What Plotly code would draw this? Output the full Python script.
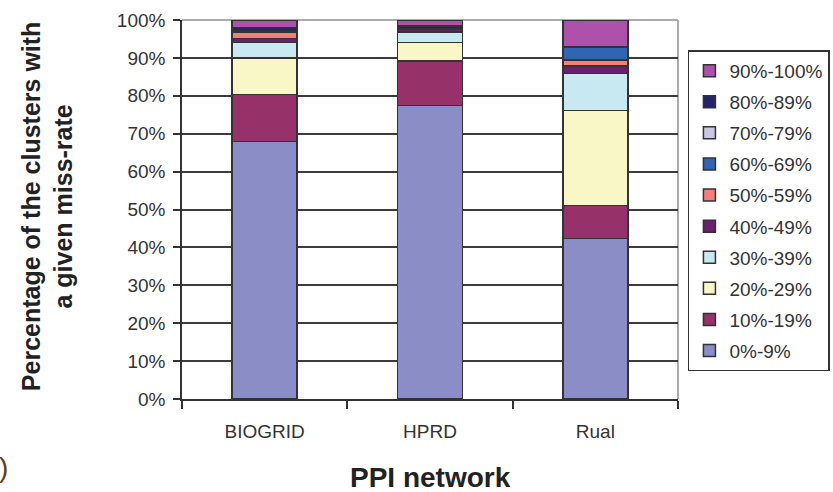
import plotly.graph_objects as go

# PPI networks on the x axis
networks = ["BIOGRID", "HPRD", "Rual"]

# Miss-rate bins, bottom of the stack first
bins = ["0%-9%", "10%-19%", "20%-29%", "30%-39%", "40%-49%",
        "50%-59%", "60%-69%", "70%-79%", "80%-89%", "90%-100%"]

# Share of clusters (%) in each miss-rate bin, per network
biogrid = [68.0, 12.3, 9.7, 4.1, 1.0, 1.8, 0.0, 0.3, 0.8, 2.0]
hprd = [77.5, 11.7, 4.8, 2.9, 0.7, 0.0, 0.0, 0.0, 0.8, 1.6]
rual = [42.4, 8.7, 25.0, 9.8, 2.0, 1.5, 3.3, 0.0, 0.3, 7.0]

# y tick positions and labels
y_ticks = list(range(0, 101, 10))
y_tick_labels = [f"{v}%" for v in y_ticks]

bin_colors = ["#8A8DC6", "#963269", "#FAF7C6", "#C8E8F2", "#6A1E6E",
              "#F57D7D", "#3264B4", "#C8C8E6", "#23236E", "#AF50AA"]

ink = "#333333"
font_family = "Liberation Sans, Arial, sans-serif"

fig = go.Figure()
for i, name in enumerate(bins):
    fig.add_trace(go.Bar(
        x=networks,
        y=[biogrid[i], hprd[i], rual[i]],
        name=name,
        legendgroup=name,
        legendrank=1000 - i,  # highest bin listed first
        marker=dict(color=bin_colors[i], line=dict(color=ink, width=1.5)),
    ))

fig.update_layout(
    width=833, height=492,
    margin=dict(l=182, r=155, t=20, b=93, autoexpand=False),
    paper_bgcolor="white", plot_bgcolor="white",
    barmode="stack", bargap=0.607,
    font=dict(family=font_family, color=ink, size=19),
    showlegend=True,
    legend=dict(
        traceorder="grouped", tracegroupgap=3.4,
        x=1.02, xanchor="left", y=0.92, yanchor="top",
        bordercolor=ink, borderwidth=1.5, bgcolor="white",
        font=dict(size=19, color=ink, family=font_family),
    ),
    xaxis=dict(
        range=[-0.5, 2.5], showline=True, linecolor=ink, linewidth=1.5,
        ticks="outside", ticklen=8, tickwidth=1.5, tickcolor=ink,
        tickson="boundaries", ticklabelstandoff=14,
        tickfont=dict(size=19, color=ink),
        showgrid=False,
    ),
    yaxis=dict(
        range=[0, 100], tickmode="array", tickvals=y_ticks, ticktext=y_tick_labels,
        showline=True, linecolor=ink, linewidth=1.5,
        ticks="outside", ticklen=7, tickwidth=1.5, tickcolor=ink,
        ticklabelstandoff=4,
        showgrid=True, gridcolor="#3c3c3c", gridwidth=1.5,
        zeroline=False, tickfont=dict(size=19, color=ink),
    ),
    shapes=[
        # light frame on top and right of the plot area
        dict(type="line", xref="paper", yref="paper", x0=0, x1=1, y0=1, y1=1,
             line=dict(color="#ABABAB", width=2), layer="between"),
        dict(type="line", xref="paper", yref="paper", x0=1, x1=1, y0=0, y1=1,
             line=dict(color="#ABABAB", width=2), layer="between"),
    ],
    annotations=[
        dict(text="<b>Percentage of the clusters with<br>a given miss-rate</b>",
             xref="paper", yref="paper", x=-0.272, y=0.509,
             xanchor="center", yanchor="middle", textangle=-90, showarrow=False,
             font=dict(size=25, color="#222222", family=font_family)),
        dict(text="<b>PPI network</b>",
             xref="paper", yref="paper", x=0.502, y=-0.206,
             xanchor="center", yanchor="middle", showarrow=False,
             font=dict(size=28, color="#222222", family=font_family)),
        dict(text=")", xref="paper", yref="paper", x=-0.346, y=-0.182,
             xanchor="right", yanchor="middle", showarrow=False,
             font=dict(size=28, color="#5A3F22", family=font_family)),
    ],
)

fig.write_html("out.html")
